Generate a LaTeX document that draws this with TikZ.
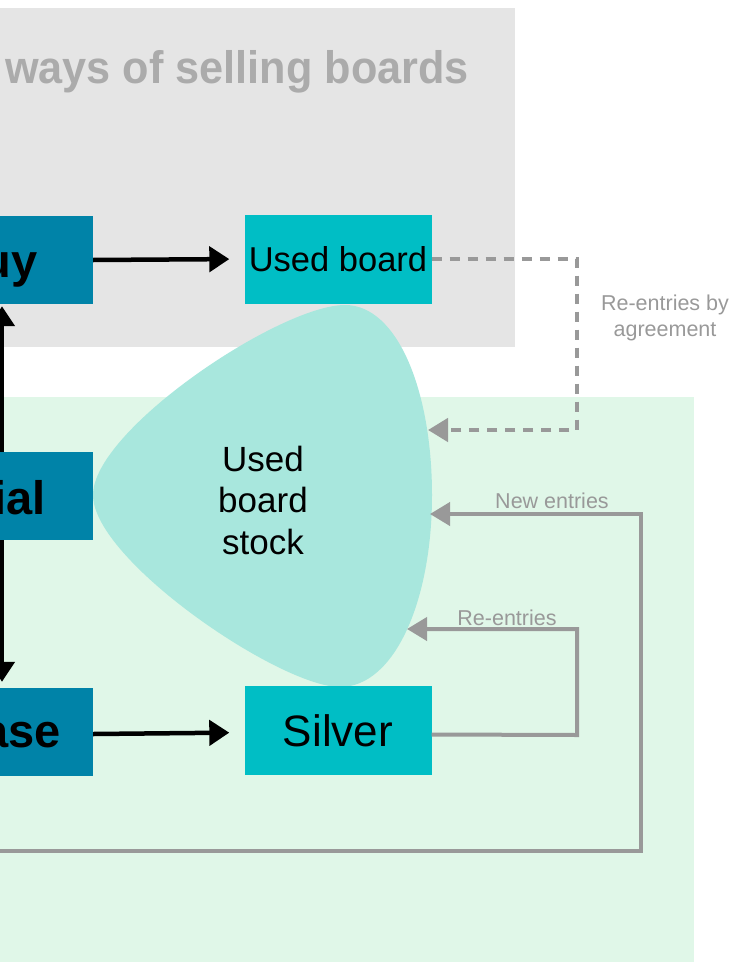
\documentclass[tikz,border=0pt]{standalone}
\usepackage{fontspec}
\setmainfont{Liberation Sans}
\usetikzlibrary{arrows.meta}
\definecolor{greybg}{HTML}{E5E5E5}
\definecolor{greenbg}{HTML}{E0F7E8}
\definecolor{darkfill}{HTML}{0083A8}
\definecolor{tealfill}{HTML}{00BEC5}
\definecolor{blobfill}{HTML}{A8E7DD}
\definecolor{linegrey}{HTML}{999999}
\definecolor{titlegrey}{HTML}{ABABAB}
\tikzset{
  darkbox/.style={fill=darkfill, inner sep=0pt, minimum height=88pt, minimum width=193pt},
  tealbox/.style={fill=tealfill, inner sep=0pt, minimum width=187pt, minimum height=89pt},
  boldtext/.style={inner sep=0pt, anchor=base east, font=\fontsize{47}{50}\selectfont\bfseries},
  blackarrow/.style={line width=4.5pt, -{Triangle[length=20pt,width=25pt]}},
  greyarrow/.style={draw=linegrey, line width=4pt, -{Triangle[length=20pt,width=23pt]}},
  greylabel/.style={text=linegrey, inner sep=0pt, font=\fontsize{21.5}{26}\selectfont},
}
\begin{document}
\begin{tikzpicture}[x=1pt,y=-1pt]
\useasboundingbox (0,0) rectangle (734,963);
\clip (0,0) rectangle (734,963);
% backgrounds
\fill[greybg] (-10,8) rectangle (515,347);
\fill[greenbg] (-10,397) rectangle (694,962);
% title
\node[anchor=base west, inner sep=0pt, text=titlegrey, font=\fontsize{47}{50}\selectfont\bfseries] (title) at (5,84) {\scalebox{0.92}[0.97]{ways of selling boards}};
% blob
\fill[blobfill] (345,305) .. controls (398,305) and (432,392) .. (432,495)
  .. controls (432,600) and (395,687) .. (340,687)
  .. controls (280,687) and (93,560) .. (93,495)
  .. controls (93,430) and (280,305) .. (345,305);
\node[inner sep=0pt, align=center, font=\fontsize{35}{41.5}\selectfont] (stock) at (263,500) {Used\\board\\stock};
% left boxes
\node[darkbox] (buy) at (-3.5,260) {};
\node[darkbox] (ial) at (-3.5,496) {};
\node[darkbox] (ase) at (-3.5,732) {};
\node[boldtext] (buyt) at (38,277) {uy};
\node[boldtext] (ialt) at (46,514) {ial};
\node[boldtext] (aset) at (61,747) {ase};
% teal boxes
\node[tealbox, font=\fontsize{34.5}{40}\selectfont] (used) at (338,259) {Used board};
\node[tealbox, font=\fontsize{44}{48}\selectfont] (silver) at (338,730.5) {Silver};
% black arrows
\draw[blackarrow, shorten >=15pt] (buy.east) -- (used.west);
\draw[blackarrow, shorten >=15pt] ([yshift=-2pt]ase.east) -- ([yshift=-2pt]silver.west);
\coordinate (vl) at (2,0);
\draw[blackarrow] (ial.north -| vl) -- ([yshift=-2pt]buy.south -| vl);
\draw[blackarrow, shorten >=6pt] (ial.south -| vl) -- (ase.north -| vl);
% dashed re-entries by agreement
\coordinate (dashin) at (428,430);
\draw[greyarrow, line width=4.5pt, dash pattern=on 10pt off 8pt] (used.east) -- (577,259) -- (577,430) -- (dashin);
\node[greylabel, align=center] (agree) at (665,318) {Re-entries by\\agreement};
% new entries
\coordinate (newstart) at (-10,851);
\coordinate (newin) at (430,514);
\draw[greyarrow] (newstart) -- (641,851) -- (641,514) -- (newin);
\node[greylabel, anchor=base] (newlab) at (552,508) {New entries};
% re-entries
\coordinate (rein) at (407,629);
\draw[greyarrow] ([yshift=-4pt]silver.east) -- (577,735) -- (577,629) -- (rein);
\node[greylabel, anchor=base] (relab) at (507,625) {Re-entries};
\end{tikzpicture}
\end{document}
